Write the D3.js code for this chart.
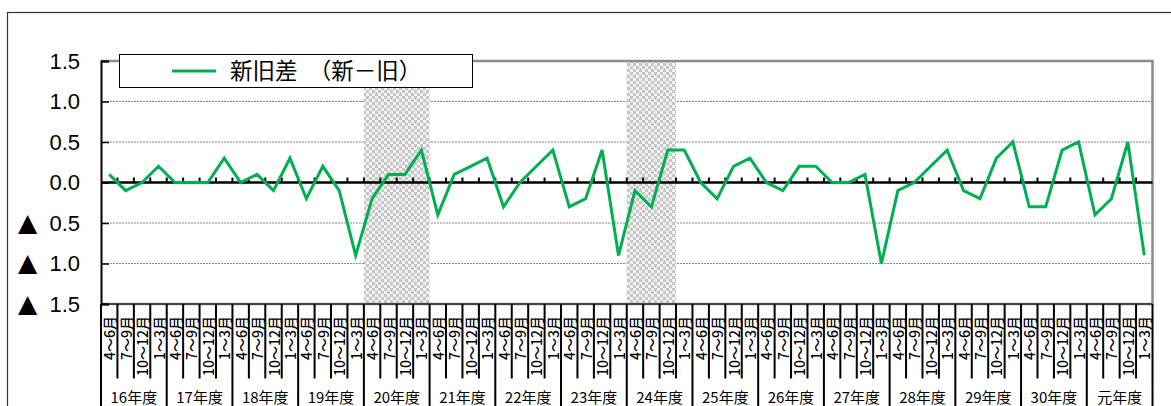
<!DOCTYPE html>
<html><head><meta charset="utf-8">
<script src="https://cdn.jsdelivr.net/npm/d3@7"></script>
<style>body{margin:0;background:#fff}svg{display:block}</style>
</head><body>
<svg id="c" width="1171" height="406"></svg>
<script>
// ---- data ----
const years = ["16年度","17年度","18年度","19年度","20年度","21年度","22年度","23年度","24年度","25年度","26年度","27年度","28年度","29年度","30年度","元年度"];
const quarters = ["4～6月","7～9月","10～12月","1～3月"];
const values = [
  0.1, -0.1, 0.0, 0.2,
  0.0, 0.0, 0.0, 0.3,
  0.0, 0.1, -0.1, 0.3,
  -0.2, 0.2, -0.1, -0.9,
  -0.2, 0.1, 0.1, 0.4,
  -0.4, 0.1, 0.2, 0.3,
  -0.3, 0.0, 0.2, 0.4,
  -0.3, -0.2, 0.4, -0.9,
  -0.1, -0.3, 0.4, 0.4,
  0.0, -0.2, 0.2, 0.3,
  0.0, -0.1, 0.2, 0.2,
  0.0, 0.0, 0.1, -1.0,
  -0.1, 0.0, 0.2, 0.4,
  -0.1, -0.2, 0.3, 0.5,
  -0.3, -0.3, 0.4, 0.5,
  -0.4, -0.2, 0.5, -0.9
];
const yTicks = [1.5, 1.0, 0.5, 0.0, -0.5, -1.0, -1.5];
const yTickLabels = ["1.5","1.0","0.5","0.0","▲ 0.5","▲ 1.0","▲ 1.5"];
const gridValues = [1.0, 0.5, -0.5, -1.0];
// shaded periods: [year, first quarter index, last quarter index]
const shaded = [["20年度", 0, 3], ["24年度", 0, 2]];
const seriesName = "新旧差　（新－旧）";

// ---- build ----
const keys = [];
years.forEach(y => quarters.forEach(q => keys.push(y + "|" + q)));
const data = keys.map((k, i) => ({key: k, year: k.split("|")[0], q: k.split("|")[1], v: values[i]}));

const svg = d3.select("#c");
const L = 101, R = 1152.5, T = 61, B = 304;
const x = d3.scaleBand().domain(keys).range([L, R]).padding(0);
const y = d3.scaleLinear().domain([-1.5, 1.5]).range([B, T]);

// outer frame
svg.append("rect").attr("x", 7.5).attr("y", 12.5).attr("width", 1200).attr("height", 500)
  .attr("fill", "#fff").attr("stroke", "#333").attr("stroke-width", 1.2);

// pattern
const defs = svg.append("defs");
const pat = defs.append("pattern").attr("id", "chk").attr("patternUnits", "userSpaceOnUse")
  .attr("width", 6).attr("height", 6);
pat.append("rect").attr("width", 6).attr("height", 6).attr("fill", "#f2f2f2");
pat.append("rect").attr("width", 3).attr("height", 3).attr("fill", "#c6c6c6");
pat.append("rect").attr("x", 3).attr("y", 3).attr("width", 3).attr("height", 3).attr("fill", "#c6c6c6");

// gridlines
svg.append("g").selectAll("line").data(gridValues).join("line")
  .attr("x1", L).attr("x2", R).attr("y1", d => y(d)).attr("y2", d => y(d))
  .attr("stroke", "#8a8a8a").attr("stroke-width", 1).attr("stroke-dasharray", "2,1");

// shading
shaded.forEach(([yr, q0, q1]) => {
  const x0 = x(yr + "|" + quarters[q0]);
  const x1 = x(yr + "|" + quarters[q1]) + x.bandwidth();
  svg.append("rect").attr("x", x0).attr("y", T).attr("width", x1 - x0).attr("height", B - T)
    .attr("fill", "url(#chk)");
});

// plot border (gray top/right/bottom)
svg.append("path").attr("d", `M${L},${T}H${R}V${B}H${L}`).attr("fill", "none")
  .attr("stroke", "#8c8c8c").attr("stroke-width", 2.5);

// left axis
const yAxis = d3.axisRight(y).tickValues(yTicks).tickSize(8).tickFormat("");
const gy = svg.append("g").attr("transform", `translate(${L},0)`).call(yAxis);
gy.select(".domain").attr("stroke", "#000").attr("stroke-width", 2);
gy.selectAll(".tick line").attr("stroke", "#000").attr("stroke-width", 1.5);
const yl = svg.append("g").selectAll("text").data(yTicks).join("text")
  .attr("x", 80).attr("y", d => y(d)).attr("dy", "0.36em").attr("text-anchor", "end")
  .attr("font-family", "'Liberation Sans', Arial, sans-serif").attr("font-size", 22)
  .attr("fill", "#000");
yl.each(function(d, i) {
  const lab = yTickLabels[i];
  const t = d3.select(this);
  if (lab.startsWith("▲")) {
    t.append("tspan").attr("font-family", "'DejaVu Sans', sans-serif").attr("font-size", 25)
      .text("▲");
    t.append("tspan").text("  " + lab.slice(2)).attr("xml:space", "preserve");
  } else {
    t.text(lab);
  }
});
yl.attr("style", "white-space:pre");

// zero line with small ticks
svg.append("line").attr("x1", L).attr("x2", R).attr("y1", y(0)).attr("y2", y(0))
  .attr("stroke", "#000").attr("stroke-width", 2.5);
svg.append("g").selectAll("line").data(keys.slice(1)).join("line")
  .attr("x1", d => x(d)).attr("x2", d => x(d)).attr("y1", y(0)).attr("y2", y(0) - 5)
  .attr("stroke", "#000").attr("stroke-width", 2);

// category axis (below)
svg.append("line").attr("x1", L).attr("x2", R).attr("y1", B).attr("y2", B)
  .attr("stroke", "#000").attr("stroke-width", 1);
const qSep = svg.append("g");
keys.forEach((k, i) => {
  const xx = x(k);
  const isYear = i % 4 === 0;
  qSep.append("line").attr("x1", xx).attr("x2", xx).attr("y1", B).attr("y2", isYear ? 410 : 378.5)
    .attr("stroke", "#000").attr("stroke-width", 2);
});
qSep.append("line").attr("x1", R).attr("x2", R).attr("y1", B).attr("y2", 410)
  .attr("stroke", "#000").attr("stroke-width", 2);

svg.append("g").selectAll("text").data(data).join("text")
  .attr("transform", d => `translate(${x(d.key) + x.bandwidth() / 2 + 6},316) rotate(-90)`)
  .attr("text-anchor", "end")
  .attr("font-family", "'Noto Sans CJK JP', sans-serif").attr("font-size", 14)
  .attr("font-weight", 500)
  .attr("fill", "#000").text(d => d.q);

svg.append("g").selectAll("text").data(years).join("text")
  .attr("x", d => x(d + "|" + quarters[0]) + x.bandwidth() * 2)
  .attr("y", 397.5).attr("dy", "0.36em").attr("text-anchor", "middle")
  .attr("font-family", "'Noto Sans CJK JP', sans-serif").attr("font-size", 15)
  .attr("fill", "#000").text(d => d);

// series line
const line = d3.line().x(d => x(d.key) + x.bandwidth() / 2).y(d => y(d.v));
svg.append("path").datum(data).attr("d", line).attr("fill", "none")
  .attr("stroke", "#00B050").attr("stroke-width", 3).attr("stroke-linejoin", "miter");

// legend
const lg = svg.append("g");
lg.append("rect").attr("x", 119.5).attr("y", 54.5).attr("width", 353).attr("height", 33)
  .attr("fill", "#fff").attr("stroke", "#000").attr("stroke-width", 1);
lg.append("line").attr("x1", 172).attr("x2", 216).attr("y1", 71).attr("y2", 71)
  .attr("stroke", "#00B050").attr("stroke-width", 3);
lg.append("text").attr("x", 230).attr("y", 71).attr("dy", "0.36em")
  .attr("font-family", "'Noto Sans CJK JP', sans-serif").attr("font-size", 22.5)
  .attr("fill", "#000").text(seriesName);
</script>
</body></html>
